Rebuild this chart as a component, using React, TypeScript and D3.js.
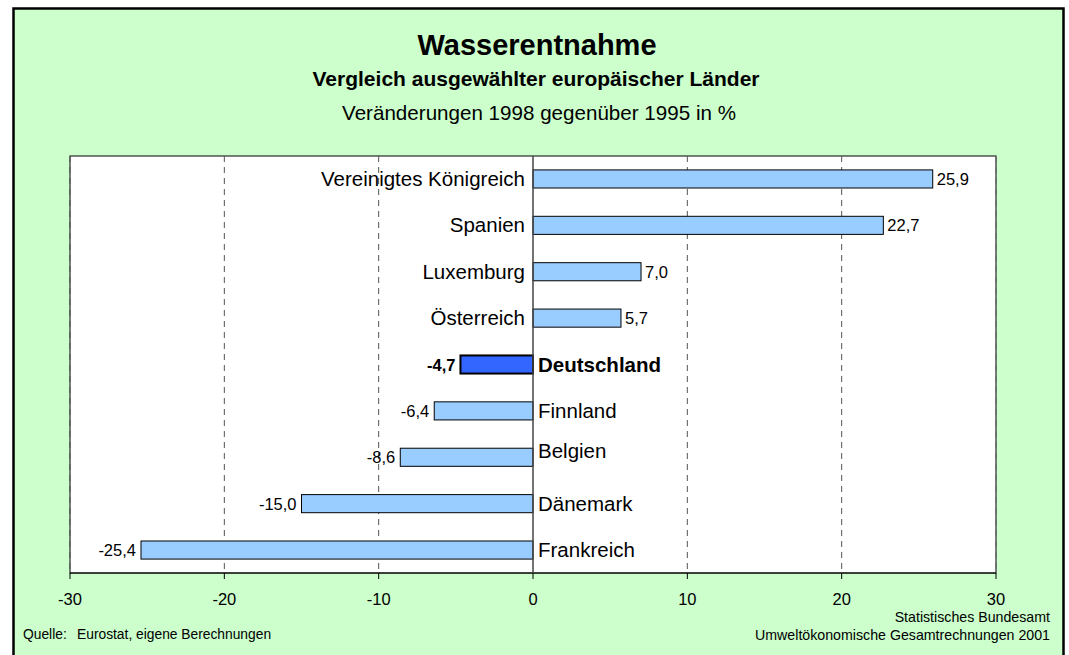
import React from "react";
import * as d3 from "d3";

const countries = ["Vereinigtes Königreich", "Spanien", "Luxemburg", "Österreich", "Deutschland", "Finnland", "Belgien", "Dänemark", "Frankreich"];
const changes = [25.9, 22.7, 7.0, 5.7, -4.7, -6.4, -8.6, -15.0, -25.4];
const xTicks = [-30, -20, -10, 0, 10, 20, 30];
const highlight = "Deutschland";

const W = 1069, H = 655;
const font = "'Liberation Sans', Arial, sans-serif";

export default function App() {
  const x = d3.scaleLinear().domain([-30, 30]).range([70, 996]);
  const y = d3.scaleBand<string>().domain(countries).range([156, 573]).paddingInner(0.61).paddingOuter(0.3);
  const fmt = (v: number) => v.toFixed(1).replace(".", ",");
  const x0 = x(0);
  return (
    <svg width={W} height={H} style={{ position: "absolute", left: 0, top: 0 }} fontFamily={font}>
      <rect x={13.5} y={8.5} width={1050} height={660} fill="#CCFFCC" stroke="#000" strokeWidth={2.5} />
      <text x={537} y={55} textAnchor="middle" fontSize={29} fontWeight="bold">Wasserentnahme</text>
      <text x={536} y={86} textAnchor="middle" fontSize={21} fontWeight="bold">Vergleich ausgewählter europäischer Länder</text>
      <text x={539} y={120} textAnchor="middle" fontSize={20.6}>Veränderungen 1998 gegenüber 1995 in %</text>
      <rect x={70} y={156} width={926} height={417} fill="#fff" stroke="#000" strokeWidth={1} />
      {xTicks.filter(t => t !== 0).map(t => (
        <line key={"g" + t} x1={x(t)} x2={x(t)} y1={156} y2={573} stroke="#555" strokeDasharray="6,5" />
      ))}
      <line x1={996} x2={996} y1={156} y2={573} stroke="#777" />
      <line x1={70} x2={996} y1={573} y2={573} stroke="#000" />
      {xTicks.map(t => (
        <g key={"t" + t}>
          <line x1={x(t)} x2={x(t)} y1={573} y2={579} stroke="#000" />
          <text x={x(t)} y={605} textAnchor="middle" fontSize={16.5}>{t}</text>
        </g>
      ))}
      {countries.map((c, i) => {
        const v = changes[i];
        const yc = y(c)! + y.bandwidth() / 2;
        const hl = c === highlight;
        const x1 = Math.min(x(v), x0), x2 = Math.max(x(v), x0);
        return (
          <g key={c}>
            <rect x={x1} y={y(c)} width={x2 - x1} height={y.bandwidth()} fill={hl ? "#3366FF" : "#99CCFF"} stroke="#000" strokeWidth={hl ? 2 : 1} />
            <text x={v >= 0 ? x(v) + 4 : x(v) - 5} y={yc + 6} textAnchor={v >= 0 ? "start" : "end"} fontSize={16.5} fontWeight={hl ? "bold" : "normal"}>{fmt(v)}</text>
            <text x={v >= 0 ? x0 - 8 : x0 + 5} y={yc + 7 - (c === "Belgien" ? 6 : 0)} textAnchor={v >= 0 ? "end" : "start"} fontSize={20.5} fontWeight={hl ? "bold" : "normal"}>{c}</text>
          </g>
        );
      })}
      <line x1={x0} x2={x0} y1={156} y2={573} stroke="#444" strokeWidth={1.5} />
      <text x={23} y={639} fontSize={13.8}>Quelle:</text>
      <text x={77} y={639} fontSize={13.8}>Eurostat, eigene Berechnungen</text>
      <text x={1050} y={622} textAnchor="end" fontSize={14.2}>Statistisches Bundesamt</text>
      <text x={1050} y={640} textAnchor="end" fontSize={14.2}>Umweltökonomische Gesamtrechnungen 2001</text>
    </svg>
  );
}
